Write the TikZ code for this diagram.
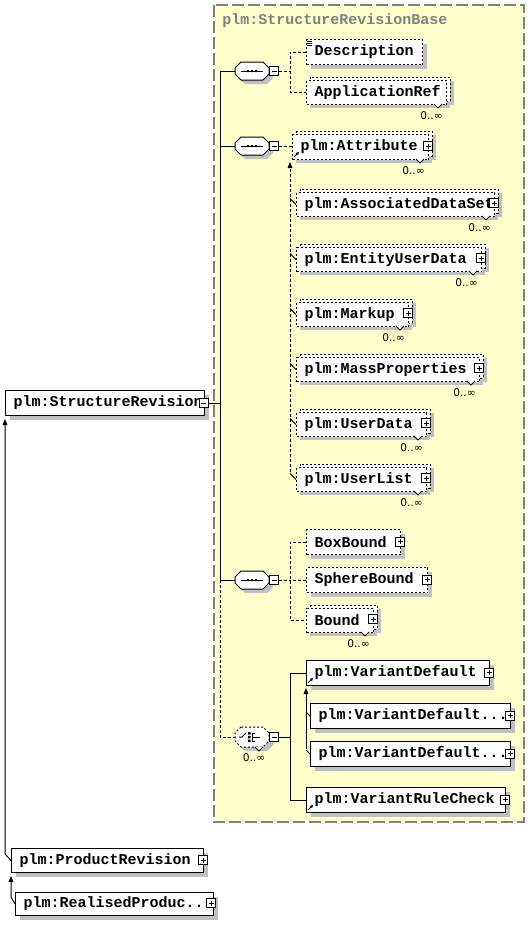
\documentclass[tikz,border=0pt]{standalone}
\usepackage{fontspec}
\setmainfont{DejaVu Sans}
\newfontfamily\xmono{Liberation Mono}
\newfontfamily\xsans{DejaVu Sans}
\usetikzlibrary{shadows,arrows.meta,calc}
\definecolor{ylw}{RGB}{255,255,204}
\definecolor{shd}{RGB}{192,192,192}
\definecolor{brd}{RGB}{128,128,128}
\tikzset{
  ebox/.style={draw=black, fill=white, line width=0.75pt, inner sep=0pt,
    font=\xmono\bfseries\fontsize{11.25pt}{13pt}\selectfont},
  optb/.style={dash pattern=on 1.5pt off 1.5pt},
  shadowed/.style={general shadow={fill=shd, shadow xshift=3pt, shadow yshift=-3pt}},
  pm/.style={draw=black, fill=white, line width=0.6pt, minimum size=6.75pt, inner sep=0pt},
  plusbox/.style={pm, path picture={
    \draw[line width=0.6pt] ([xshift=1.5pt]path picture bounding box.west) -- ([xshift=-1.5pt]path picture bounding box.east)
      ([yshift=1.5pt]path picture bounding box.south) -- ([yshift=-1.5pt]path picture bounding box.north);}},
  minusbox/.style={pm, path picture={
    \draw[line width=0.6pt] ([xshift=1.5pt]path picture bounding box.west) -- ([xshift=-1.5pt]path picture bounding box.east);}},
  conn/.style={line width=0.75pt},
  cdash/.style={dash pattern=on 2.25pt off 1.5pt},
  subarrow/.style={-{Triangle[length=4.5pt,width=3.5pt]}},
  mult/.style={font=\xsans\fontsize{8pt}{9pt}\selectfont, inner sep=0pt},
  compo/.style={inner sep=0pt, minimum width=25.5pt, minimum height=13.5pt},
}
% octagon outline path: x1, y1, x2, y2
\newcommand\octpath[4]{(#1+6,#2) -- (#3-6,#2) -- (#3,#2+6) -- (#3,#4-6) -- (#3-6,#4) -- (#1+6,#4) -- (#1,#4-6) -- (#1,#2+6) -- cycle}
% single element box: name, extra style, x1, y1, x2, y2, text
\newcommand\elemS[7]{%
  \pgfmathsetlengthmacro\bw{(#5-#3)*0.75pt}%
  \pgfmathsetlengthmacro\bh{(#6-#4)*0.75pt}%
  \node[ebox, shadowed, #2, minimum width=\bw, minimum height=\bh, anchor=north west] (#1) at (#3,#4)
    {\makebox[\bw][l]{\hspace*{6pt}#7}};%
}
% stacked (multiple) optional element box: name, x1, y1, x2, y2, text
\newcommand\elemM[6]{%
  \fill[shd] (#2+8,#3+4) rectangle (#4+4,#5+1);
  \fill[shd] (#2+4,#3+7) rectangle (#4,#5+4);
  \draw[line width=0.75pt, optb, fill=white] (#2+4,#3) rectangle (#4,#5-3);
  \pgfmathsetlengthmacro\bw{(#4-4-#2)*0.75pt}%
  \pgfmathsetlengthmacro\bh{(#5-#3-3)*0.75pt}%
  \node[ebox, optb, minimum width=\bw, minimum height=\bh, anchor=north west] (#1) at (#2,#3+3)
    {\makebox[\bw][l]{\hspace*{6pt}#6}};
  \draw[line width=0.75pt, fill=white] (#4-16,#5) -- (#4-12,#5+4) -- (#4-8,#5);
  \node[mult, anchor=north east] (#1-n) at (#4-7,#5+7) {0..∞};
}
% sequence compositor: name, cy
\newcommand\seqnode[2]{%
  \fill[shd] \octpath{239}{#2-5}{273}{#2+13};
  \draw[line width=0.75pt, fill=white] \octpath{235}{#2-9}{269}{#2+9};
  \node[compo] (#1) at (252,#2) {};
  \draw[line width=0.75pt] (241,#2) -- (263,#2);
  \fill (247,#2-1) rectangle (249,#2+1) (251,#2-1) rectangle (253,#2+1) (255,#2-1) rectangle (257,#2+1);
  \node[minusbox] (#1m) at (274,#2) {};
}
\begin{document}
\begin{tikzpicture}[x=0.75pt,y=-0.75pt]
\fill[white] (0,0) rectangle (530,929);
\useasboundingbox (0,0) rectangle (530,929);

% base type region
\draw[brd, line width=1.1pt, dash pattern=on 9pt off 3pt, fill=ylw] (214,5) rectangle (524,822);
\node[anchor=west, inner sep=0pt, text=brd, font=\xmono\bfseries\fontsize{11.25pt}{13pt}\selectfont] (title) at (222,21) {plm:StructureRevisionBase};

% compositors
\seqnode{seq1}{71}
\seqnode{seq2}{146}
\seqnode{seq3}{580}
\fill[shd] \octpath{239}{732}{273}{751};
\draw[line width=0.75pt, optb, fill=white] \octpath{235}{727}{269}{747};
\node[compo] (ch) at (252,737) {};
\draw[line width=0.75pt, fill=white] (255,747) -- (259,751) -- (263,747);
\node[mult, anchor=north] (ch-n) at (254,753) {0..∞};
\draw[line width=0.75pt] (239,737) -- (242,737) -- (246,733);
\fill (248,732) rectangle (250.5,734.5) (248,735.8) rectangle (250.5,738.3) (248,739.5) rectangle (250.5,742);
\draw[line width=0.75pt] (252,733) -- (252,741) (252,733) -- (255,733) (252,741) -- (255,741) (252,737) -- (260,737);
\node[minusbox] (chm) at (274,737) {};

% elements inside base
\elemS{desc}{optb}{306}{39}{422}{64}{Description}
\draw[line width=0.6pt] (307,41) -- (312,41) (307,43) -- (312,43) (307,45) -- (312,45);
\elemM{appref}{306}{77}{450}{104}{ApplicationRef}

\elemM{attr}{292}{131}{432}{159}{plm:Attribute}
\node[plusbox] (attr-p) at (428,146) {};
\draw[line width=0.6pt, -{Triangle[length=2.2pt,width=2.2pt]}] (294,157) -- (299,152);
\elemM{ads}{296}{189}{498}{216}{plm:AssociatedDataSet}
\node[plusbox] (ads-p) at (494,203) {};
\elemM{eud}{296}{244}{485}{271}{plm:EntityUserData}
\node[plusbox] (eud-p) at (481,258) {};
\elemM{markup}{296}{299}{412}{326}{plm:Markup}
\node[plusbox] (markup-p) at (408,313) {};
\elemM{massp}{296}{354}{483}{381}{plm:MassProperties}
\node[plusbox] (massp-p) at (479,368) {};
\elemM{udata}{296}{409}{430}{436}{plm:UserData}
\node[plusbox] (udata-p) at (426,423) {};
\elemM{ulist}{296}{464}{430}{491}{plm:UserList}
\node[plusbox] (ulist-p) at (426,478) {};

\elemS{boxb}{optb}{306}{529}{400}{554}{BoxBound}
\node[plusbox] (boxb-p) at (400,541.5) {};
\elemS{sphb}{optb}{306}{567}{427}{592}{SphereBound}
\node[plusbox] (sphb-p) at (427,579.5) {};
\elemM{bound}{306}{605}{377}{632}{Bound}
\node[plusbox] (bound-p) at (373,619) {};

\elemS{vd}{}{306}{660}{489}{685}{plm:VariantDefault}
\node[plusbox] (vd-p) at (489,672.5) {};
\draw[line width=0.6pt, -{Triangle[length=2.2pt,width=2.2pt]}] (308,683) -- (313,678);
\elemS{vdb}{}{310}{703}{510}{728}{plm:VariantDefault...}
\node[plusbox] (vdb-p) at (510,715.5) {};
\elemS{vdc}{}{310}{741}{510}{766}{plm:VariantDefault...}
\node[plusbox] (vdc-p) at (510,753.5) {};
\elemS{vrc}{}{306}{787}{505}{812}{plm:VariantRuleCheck}
\node[plusbox] (vrc-p) at (505,799.5) {};
\draw[line width=0.6pt, -{Triangle[length=2.2pt,width=2.2pt]}] (308,810) -- (313,805);

% elements outside
\elemS{sr}{}{5}{390}{204}{415}{plm:StructureRevision}
\node[minusbox] (srm) at (203.5,403) {};
\elemS{pr}{}{11}{848}{203}{872}{plm:ProductRevision}
\node[plusbox] (pr-p) at (203,860) {};
\elemS{rp}{}{15}{892}{213}{915}{plm:RealisedProduc...}
\node[plusbox] (rp-p) at (211,903) {};

% connectors
\coordinate (busx) at (220,0);
\coordinate (b1) at (290,0);
\draw[conn] (srm.east) -- (srm.east -| busx);
\draw[conn] (seq1.west) -- (seq1.west -| busx) -- (seq3.west -| busx) -- (seq3.west);
\draw[conn] (seq2.west) -- (seq2.west -| busx);
\draw[conn,cdash] (seq3.west -| busx) -- (ch.west -| busx) -- (ch.west);

\draw[conn,cdash] (seq1m.east) -- (seq1m.east -| b1);
\draw[conn,cdash] (desc.west) -| (b1 |- appref.west) -- (appref.west);

\draw[conn,cdash] (seq2m.east) -- (attr.west |- seq2m.east);
\coordinate (g1top) at (290,162);
\coordinate (g1bot) at (290,472);
\draw[conn,cdash,subarrow] (g1bot) -- (g1top);
\foreach \n in {ads,eud,markup,massp,udata,ulist}
  \draw[line width=0.6pt] (\n.west -| g1top) ++(0,-6) -- (\n.west);

\draw[conn,cdash] (seq3m.east) -- (seq3m.east -| b1);
\draw[conn,cdash] (boxb.west) -| (b1 |- bound.west) -- (bound.west);
\draw[conn,cdash] (sphb.west) -- (sphb.west -| b1);

\draw[conn] (chm.east) -- (chm.east -| b1);
\draw[conn] (vd.west) -| (b1 |- vrc.west) -- (vrc.west);
\coordinate (g2top) at (306,688);
\coordinate (g2bot) at (306,749);
\draw[conn,subarrow] (g2bot) -- (g2top);
\draw[line width=0.6pt] (vdb.west -| g2top) ++(0,-4) -- (vdb.west);
\draw[line width=0.6pt] (vdc.west -| g2top) ++(0,-4) -- (vdc.west);

\coordinate (l1) at (5,854);
\draw[conn,subarrow] (pr.west) -- (l1) -- ([yshift=-2.25pt]sr.south west);
\coordinate (l2) at (11,897);
\draw[conn,subarrow] (rp.west) -- (l2) -- ([yshift=-2.25pt]pr.south west);
\end{tikzpicture}
\end{document}
